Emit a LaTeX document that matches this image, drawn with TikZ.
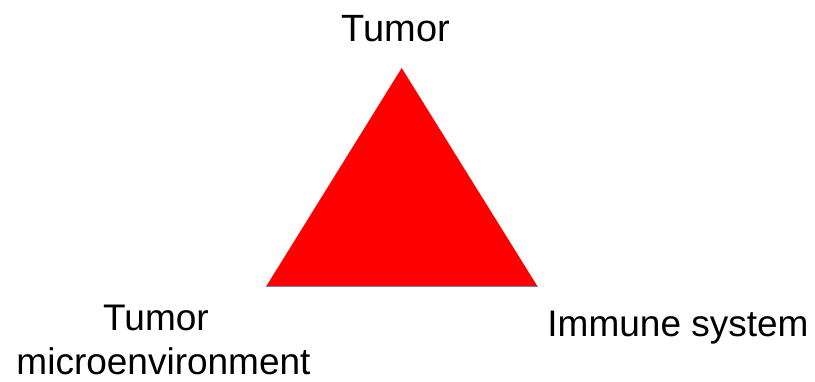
\documentclass[tikz,border=0pt]{standalone}
\usepackage{fontspec}
\setmainfont{Liberation Sans}
\begin{document}
\begin{tikzpicture}[x=1pt,y=1pt,
  lbl/.style={anchor=base,inner sep=0pt,outer sep=0pt,font=\fontsize{37}{44}\selectfont},
  tri/.style={fill={rgb,255:red,255;green,0;blue,0}}]
\useasboundingbox (0,0) rectangle (815,382);
\coordinate (apex) at (401.7,314);
\coordinate (bl) at (266,95.3);
\coordinate (br) at (537.7,95.3);
\fill[tri] (apex) -- (bl) -- (br) -- cycle;
\draw[line width=1.2pt,color={rgb,255:red,110;green,130;blue,170}] (bl) -- (br);
\node[lbl,font=\fontsize{38}{45}\selectfont] (top) at (396,340) {Tumor};
\node[lbl] (tme1) at (156,51) {Tumor};
\node[lbl] (tme2) at (163.5,7.5) {microenvironment};
\node[lbl] (imm) at (678,45) {Immune system};
\end{tikzpicture}
\end{document}
